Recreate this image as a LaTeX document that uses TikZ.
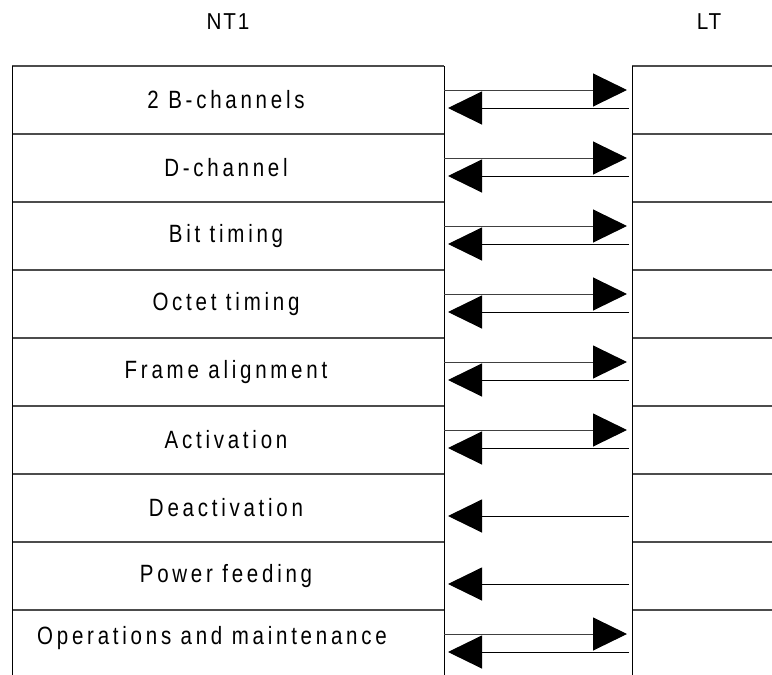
\documentclass[tikz,border=0pt]{standalone}
\usepackage{fontspec}
\usetikzlibrary{arrows.meta}
\newfontfamily\rowfam{Liberation Sans}[FakeStretch=0.82, LetterSpace=15]
\newfontfamily\hdrfam{Liberation Sans}[FakeStretch=0.9, LetterSpace=8]
\begin{document}
\begin{tikzpicture}[x=1pt,y=-1pt,
  lbl/.style={font=\rowfam\fontsize{25}{29}\selectfont, inner sep=0pt, anchor=center},
  hdr/.style={font=\hdrfam\fontsize{23}{28}\selectfont, inner sep=0pt, anchor=center},
  hline/.style={draw=black!70, line width=1.8pt},
  vline/.style={draw=black, line width=1pt},
  tip/.style={-{Triangle[length=34pt,width=33pt,black]}},
  sigR/.style={draw=black!75, line width=1pt, tip},
  sigL/.style={draw=black, line width=1pt, tip}
]
\useasboundingbox (0,0) rectangle (772,675);
\fill[white] (0,0) rectangle (772,675);
% headers
\node[hdr] (nt) at (228,22) {NT1};
\node[hdr] (lt) at (709,22) {LT};
% frame
\foreach \i in {0,...,8}{
  \draw[hline] (12,66+68*\i) -- (444,66+68*\i);
  \draw[hline] (632,66+68*\i) -- (772,66+68*\i);
}
\draw[vline] (12,66) -- (12,675);
\draw[vline] (444,66) -- (444,675);
\draw[vline] (632,66) -- (632,675);
% row labels
\foreach \i/\t in {0/{2 B-channels},1/{D-channel},2/{Bit timing},3/{Octet timing},4/{Frame alignment},5/{Activation},6/{Deactivation},7/{Power feeding}}{
  \node[lbl] (r\i) at (226,100+68*\i) {\t};
}
\node[lbl] (r8) at (212,638) {Operations and maintenance};
% arrows
\foreach \i in {0,1,2,3,4,5,8}{
  \coordinate (a\i) at (444,90+68*\i);
  \coordinate (b\i) at (627,90+68*\i);
  \draw[sigR] (a\i) -- (b\i);
}
\foreach \i in {0,...,8}{
  \coordinate (c\i) at (629,108+68*\i);
  \coordinate (d\i) at (448,108+68*\i);
  \draw[sigL] (c\i) -- (d\i);
}
\end{tikzpicture}
\end{document}
